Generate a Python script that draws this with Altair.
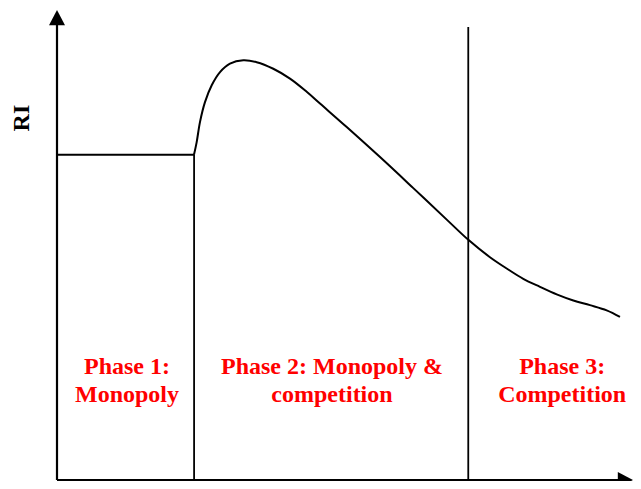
import altair as alt
import pandas as pd

# Curve of RI over time (phase 2 and 3)
curve_t = [2.378, 2.425, 2.483, 2.569, 2.686, 2.830, 3.003, 3.234, 3.467, 3.755,
           4.045, 4.335, 4.566, 5.030, 5.608, 6.186, 6.766, 7.141, 7.517, 7.807,
           8.095, 8.385, 8.675, 8.964, 9.253, 9.543, 9.774]
curve_ri = [6.92, 7.19, 7.62, 8.04, 8.40, 8.68, 8.86, 8.93, 8.89, 8.75,
            8.54, 8.26, 8.01, 7.51, 6.87, 6.21, 5.54, 5.11, 4.74, 4.50,
            4.28, 4.11, 3.95, 3.82, 3.72, 3.61, 3.47]

# Phase 1 flat level
flat_level = 6.92
# Phase boundaries (time) and the height of the boundary lines
bound_t = [2.38, 7.14]
bound_top = [6.92, 9.64]

# Axes extents
x_axis_end = 10.0
y_axis_end = 10.0

# Labels
label_text = ["Phase 1:", "Monopoly", "Phase 2: Monopoly &", "competition",
              "Phase 3:", "Competition"]
label_t = [1.215, 1.215, 4.774, 4.774, 8.77, 8.77]
label_ri = [2.26, 1.67, 2.26, 1.67, 2.26, 1.67]

xs = alt.Scale(domain=[0, 10], range=[49, 625])
ys = alt.Scale(domain=[0, 10], range=[472, 2])

X = lambda f: alt.X(f, type="quantitative", scale=xs, axis=None)
Y = lambda f: alt.Y(f, type="quantitative", scale=ys, axis=None)

curve_df = pd.DataFrame({"t": curve_t, "ri": curve_ri})
curve = alt.Chart(curve_df).mark_line(
    color="black", strokeWidth=2, interpolate="catmull-rom"
).encode(x=X("t"), y=Y("ri"))

rules_df = pd.DataFrame({
    "x": [0, bound_t[0], bound_t[1], 0, 0],
    "x2": [bound_t[0], bound_t[0], bound_t[1], x_axis_end - 0.26, 0],
    "y": [flat_level, 0, 0, 0, 0],
    "y2": [flat_level, bound_top[0], bound_top[1], 0, y_axis_end - 0.32],
    "w": [1.8, 1.8, 1.8, 2.2, 2.2],
})
rules = alt.Chart(rules_df).mark_rule(color="black").encode(
    x=X("x"), x2="x2", y=Y("y"), y2="y2",
    strokeWidth=alt.StrokeWidth("w:Q", scale=None, legend=None),
)

arrow_up = alt.Chart(pd.DataFrame({"t": [0], "ri": [y_axis_end]})).mark_point(
    shape="M0,0L1,1.9L-1,1.9Z", filled=True, size=256, color="black",
    opacity=1, strokeWidth=0
).encode(x=X("t"), y=Y("ri"))

arrow_right = alt.Chart(pd.DataFrame({"t": [x_axis_end], "ri": [0]})).mark_point(
    shape="M0,0L-1.9,-1L-1.9,1Z", filled=True, size=256, color="black",
    opacity=1, strokeWidth=0
).encode(x=X("t"), y=Y("ri"))

labels_df = pd.DataFrame({"txt": label_text, "t": label_t, "ri": label_ri})
labels = alt.Chart(labels_df).mark_text(
    font="Liberation Serif", fontWeight="bold", fontSize=24, color="#FF0000",
    align="center", baseline="alphabetic"
).encode(x=X("t"), y=Y("ri"), text="txt:N")

ri_label = alt.Chart(pd.DataFrame({"txt": ["RI"], "t": [-0.608], "ri": [7.70]})).mark_text(
    font="Liberation Serif", fontWeight="bold", fontSize=24, color="black",
    align="center", baseline="middle", angle=270
).encode(x=X("t"), y=Y("ri"), text="txt:N")

chart = alt.layer(rules, curve, arrow_up, arrow_right, labels, ri_label).properties(
    width=625, height=473, padding=0, autosize=alt.AutoSizeParams(type="none"),
    background="white"
).configure_view(stroke=None)

chart.save("out.html", embed_options={"renderer": "svg", "actions": False})
